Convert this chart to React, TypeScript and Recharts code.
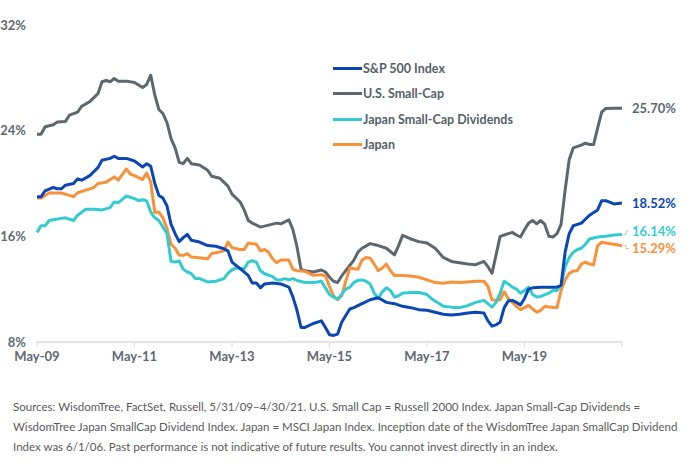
import { LineChart, Line, XAxis, YAxis, Legend } from "recharts";

// months since May-09 (0 = May-09, 144 = end of axis)
const tickMonths = [0, 24, 48, 72, 96, 120, 144];
const tickLabels = ["May-09", "May-11", "May-13", "May-15", "May-17", "May-19", ""];
const yTicks = [8, 16, 24, 32];

// [month, volatility %]
const spx: [number, number][] = [
    [0, 19.0], [1, 19.0], [2, 19.45], [4, 19.7], [5, 19.6], [6, 19.6], [7, 19.87], [9, 20.0], [10, 20.35], [11, 20.25],
    [13, 20.6], [15, 21.2], [16, 21.76], [18, 21.9], [19, 22.06], [20, 21.9], [22, 21.9], [24, 21.7], [26, 21.25], [27, 21.5],
    [28, 21.3], [29, 20.0], [30, 19.1], [31, 18.9], [32, 18.3], [33, 16.9], [34, 16.2], [35, 15.6], [36, 15.9], [37, 16.15],
    [38, 15.7], [40, 15.57], [42, 15.3], [44, 15.25], [46, 15.06], [47, 14.9], [48, 14.05], [50, 13.55], [52, 13.04], [53, 12.46],
    [54, 12.46], [55, 12.1], [56, 12.4], [58, 12.46], [60, 12.4], [62, 12.16], [63, 11.4], [64, 10.4], [65, 9.1], [66, 9.1],
    [68, 9.4], [70, 9.6], [71, 9.1], [72, 8.55], [73, 8.5], [74, 8.6], [75, 9.5], [76, 10.0], [77, 10.5], [78, 10.6],
    [80, 10.9], [82, 11.2], [84, 11.35], [86, 11.0], [88, 10.9], [90, 10.7], [92, 10.6], [94, 10.45], [96, 10.4], [98, 10.25],
    [100, 10.1], [102, 10.05], [104, 10.1], [106, 10.2], [108, 10.25], [110, 10.2], [111, 9.6], [112, 9.2], [113, 9.3], [114, 9.5],
    [115, 10.6], [116, 11.1], [117, 11.15], [118, 11.0], [119, 10.8], [120, 11.3], [121, 12.0], [122, 12.1], [124, 12.15], [126, 12.15],
    [128, 12.15], [129, 12.3], [130, 14.8], [131, 16.2], [132, 16.8], [134, 17.0], [136, 17.6], [138, 18.0], [139, 18.7], [140, 18.7],
    [142, 18.45], [144, 18.52],
];

const usSmallCap: [number, number][] = [
    [0, 23.73], [1, 23.73], [2, 24.3], [4, 24.45], [5, 24.66], [7, 24.7], [8, 25.17], [10, 25.4], [11, 25.85], [13, 26.2],
    [14, 26.5], [15, 26.8], [16, 27.7], [17, 27.8], [18, 27.7], [19, 27.95], [20, 27.75], [22, 27.75], [24, 27.65], [26, 27.27],
    [27, 27.5], [28, 28.2], [29, 26.7], [30, 25.6], [31, 25.3], [32, 24.6], [33, 23.4], [34, 22.7], [35, 21.6], [36, 21.5],
    [37, 21.9], [38, 21.5], [40, 21.4], [42, 21.0], [43, 20.55], [45, 20.4], [46, 20.1], [47, 19.8], [48, 19.2], [50, 18.6],
    [51, 18.0], [52, 17.2], [53, 17.0], [55, 16.7], [57, 16.85], [59, 17.0], [60, 16.95], [62, 17.25], [63, 16.5], [64, 15.2],
    [65, 13.5], [66, 13.4], [68, 13.3], [70, 13.45], [71, 13.3], [72, 12.9], [73, 12.6], [74, 12.5], [75, 13.0], [76, 13.4],
    [77, 13.8], [78, 14.2], [79, 14.8], [80, 15.1], [82, 15.45], [84, 15.3], [86, 15.1], [88, 14.6], [89, 15.3], [90, 16.07],
    [92, 15.8], [94, 15.6], [96, 15.5], [98, 15.1], [100, 14.4], [102, 14.1], [104, 14.0], [106, 13.9], [108, 13.85], [110, 14.1],
    [111, 13.7], [112, 13.2], [113, 14.6], [114, 16.0], [115, 16.1], [116, 16.2], [117, 16.3], [118, 16.1], [119, 15.95], [120, 16.5],
    [121, 17.0], [122, 17.2], [123, 16.95], [124, 17.2], [125, 16.9], [126, 16.0], [127, 15.95], [128, 16.2], [129, 16.9], [130, 19.5],
    [131, 21.8], [132, 22.7], [134, 22.9], [135, 23.05], [136, 22.95], [137, 22.95], [138, 24.2], [139, 25.4], [140, 25.68], [142, 25.7],
    [144, 25.7],
];

const japanSmallCapDiv: [number, number][] = [
    [0, 16.3], [1, 16.8], [2, 16.8], [3, 17.2], [4, 17.26], [6, 17.36], [7, 17.4], [9, 17.2], [10, 17.6], [12, 18.05],
    [14, 18.05], [16, 18.0], [18, 18.17], [19, 18.6], [20, 18.55], [22, 19.05], [24, 18.85], [25, 18.7], [26, 18.77], [27, 18.68],
    [28, 17.84], [29, 17.4], [30, 17.2], [31, 16.7], [32, 16.2], [33, 14.1], [34, 14.05], [35, 14.13], [36, 13.5], [37, 13.3],
    [38, 13.17], [39, 12.8], [40, 12.8], [42, 12.55], [44, 12.6], [46, 12.8], [47, 13.2], [48, 13.47], [49, 13.6], [51, 13.55],
    [52, 14.05], [53, 14.15], [54, 14.05], [55, 13.4], [56, 13.17], [58, 12.95], [59, 12.7], [60, 12.7], [61, 12.8], [62, 12.7],
    [63, 12.8], [64, 12.66], [66, 12.5], [68, 12.5], [69, 12.54], [70, 12.6], [71, 12.1], [72, 11.6], [73, 11.4], [74, 11.25],
    [75, 11.6], [76, 12.0], [77, 12.15], [78, 12.5], [79, 12.66], [80, 12.7], [81, 12.6], [82, 12.4], [83, 11.7], [84, 11.3],
    [85, 11.8], [86, 12.1], [87, 11.9], [88, 11.4], [89, 11.5], [90, 11.7], [92, 11.75], [94, 11.75], [96, 11.6], [97, 11.3],
    [98, 11.1], [100, 10.7], [102, 10.64], [104, 10.6], [106, 10.75], [108, 11.0], [110, 11.15], [111, 10.9], [112, 10.64], [113, 11.0],
    [114, 11.7], [115, 12.6], [116, 12.4], [117, 12.15], [118, 12.0], [119, 11.7], [120, 11.9], [121, 12.15], [122, 11.6], [123, 11.4],
    [124, 11.45], [126, 11.7], [127, 11.9], [128, 11.9], [129, 12.3], [130, 13.7], [131, 14.4], [132, 14.8], [133, 15.0], [134, 15.1],
    [135, 15.4], [136, 15.8], [138, 15.95], [140, 16.0], [142, 16.1], [144, 16.14],
];

const japan: [number, number][] = [
    [0, 18.9], [1, 18.9], [3, 19.28], [6, 19.28], [8, 19.1], [9, 19.0], [10, 19.3], [12, 19.5], [14, 19.7], [15, 20.0],
    [17, 20.1], [19, 20.5], [20, 20.25], [22, 21.1], [23, 20.7], [24, 20.6], [26, 20.3], [27, 20.8], [28, 20.1], [29, 17.8],
    [30, 17.84], [31, 17.4], [32, 16.6], [33, 15.4], [34, 15.1], [35, 14.56], [36, 14.56], [37, 14.7], [38, 14.43], [40, 14.38],
    [42, 14.3], [43, 14.7], [44, 14.75], [46, 14.9], [47, 15.57], [48, 15.14], [50, 15.0], [51, 15.0], [52, 15.5], [54, 15.4],
    [55, 14.9], [56, 15.0], [57, 14.8], [58, 14.3], [59, 14.0], [60, 14.2], [62, 14.2], [63, 13.5], [64, 13.4], [66, 13.35],
    [68, 13.05], [70, 13.1], [71, 13.0], [72, 12.2], [73, 11.5], [74, 11.2], [75, 11.5], [76, 12.6], [77, 13.6], [78, 13.55],
    [79, 13.5], [80, 14.2], [81, 14.4], [82, 14.35], [83, 13.9], [84, 13.4], [85, 13.6], [86, 13.9], [87, 13.4], [88, 13.04],
    [90, 13.04], [92, 13.0], [94, 12.9], [96, 12.7], [98, 12.5], [100, 12.45], [102, 12.55], [104, 12.5], [106, 12.55], [108, 12.6],
    [110, 12.6], [111, 12.2], [112, 11.2], [113, 11.15], [114, 11.2], [115, 11.8], [116, 11.3], [117, 11.0], [118, 10.7], [119, 10.45],
    [120, 10.6], [121, 10.77], [122, 10.5], [123, 10.26], [124, 10.4], [125, 10.7], [126, 10.65], [128, 10.6], [129, 11.9], [130, 12.7],
    [131, 13.2], [132, 13.37], [133, 13.4], [134, 13.9], [135, 14.05], [136, 13.9], [137, 13.85], [138, 15.3], [139, 15.55], [140, 15.5],
    [142, 15.4], [144, 15.29],
];

const seriesNames = ["S&P 500 Index", "U.S. Small-Cap", "Japan Small-Cap Dividends", "Japan"];

const footnoteLines = [
    "Sources: WisdomTree, FactSet, Russell, 5/31/09\u20134/30/21. U.S. Small Cap = Russell 2000 Index. Japan Small-Cap Dividends =",
    "WisdomTree Japan SmallCap Dividend Index. Japan = MSCI Japan Index. Inception date of the WisdomTree Japan SmallCap Dividend",
    "Index was 6/1/06. Past performance is not indicative of future results. You cannot invest directly in an index.",
];

const FONT = "Lato, 'Open Sans', sans-serif";
const AXIS_GRAY = "#5f6872";

const series = [
    { key: "usSmallCap", name: seriesNames[1], color: "#5d6770", points: usSmallCap, labelDy: 0, connector: false },
    { key: "japan", name: seriesNames[3], color: "#f8923a", points: japan, labelDy: 2.8, connector: true },
    { key: "japanSmallCapDiv", name: seriesNames[2], color: "#33cbd0", points: japanSmallCapDiv, labelDy: -3.4, connector: true },
    { key: "spx", name: seriesNames[0], color: "#0a47b5", points: spx, labelDy: 0.5, connector: false },
];

const legendOrder = [series[3], series[0], series[2], series[1]];

function renderLegend() {
    return (
        <div style={{ fontFamily: FONT }}>
            {legendOrder.map(s => (
                <div key={s.key} style={{ display: "flex", alignItems: "center", height: 25.3 }}>
                    <div style={{ width: 29, height: 3, background: s.color }} />
                    <span style={{ fontSize: 12.5, fontWeight: 700, color: "#555f69", marginLeft: 1 }}>{s.name}</span>
                </div>
            ))}
        </div>
    );
}

function endLabel(s: typeof series[number]) {
    const last = s.points.length - 1;
    return (props: any) => {
        const { cx, cy, index } = props;
        if (index !== last) return <g key={`${s.key}-${index}`} />;
        const ty = cy + s.labelDy;
        return (
            <g key={`${s.key}-end`}>
                {s.connector && (
                    <polyline
                        points={`${cx + 1},${cy} ${cx + 4},${cy} ${cx + 4},${ty} ${cx + 7},${ty}`}
                        fill="none"
                        stroke="#c4c4c4"
                        strokeWidth={1}
                    />
                )}
                <text x={cx + 10} y={ty} dy="0.36em" fill={s.color} fontSize={13} fontWeight={700} fontFamily={FONT}>
                    {`${s.points[last][1].toFixed(2)}%`}
                </text>
            </g>
        );
    };
}

export default function App() {
    return (
        <div style={{ position: "absolute", left: 0, top: 0, width: 682, height: 463, background: "#fff", fontFamily: FONT }}>
            <LineChart width={682} height={381} margin={{ top: 25, right: 60, bottom: 0, left: 0 }}>
                <XAxis
                    type="number"
                    dataKey="month"
                    domain={[0, 144]}
                    ticks={tickMonths}
                    tickFormatter={(v: number) => tickLabels[tickMonths.indexOf(v)] ?? ""}
                    height={39}
                    axisLine={{ stroke: "#dadada", strokeWidth: 1.5 }}
                    tickLine={{ stroke: "#dadada" }}
                    tickSize={5}
                    tickMargin={5}
                    tick={{ fill: AXIS_GRAY, fontSize: 13, fontWeight: 700, fontFamily: FONT }}
                />
                <YAxis
                    type="number"
                    domain={[8, 32]}
                    ticks={yTicks}
                    tickFormatter={(v: number) => `${v}%`}
                    width={37}
                    axisLine={false}
                    tickLine={false}
                    tickMargin={5}
                    tick={{ fill: AXIS_GRAY, fontSize: 13, fontWeight: 700, fontFamily: FONT }}
                />
                <Legend
                    layout="horizontal"
                    verticalAlign="middle"
                    align="center"
                    content={renderLegend}
                    wrapperStyle={{ left: 333, top: 56, width: 260 }}
                />
                {series.map(s => (
                    <Line
                        key={s.key}
                        data={s.points.map(([month, value]) => ({ month, value }))}
                        dataKey="value"
                        name={s.name}
                        type="linear"
                        stroke={s.color}
                        strokeWidth={3}
                        strokeLinejoin="round"
                        dot={endLabel(s)}
                        activeDot={false}
                        isAnimationActive={false}
                    />
                ))}
            </LineChart>
            <div style={{ position: "absolute", left: 13, top: 397, fontSize: 11.5, lineHeight: "20px", color: "#5a5a5a" }}>
                {footnoteLines.map((t, i) => (
                    <div key={i} style={{ whiteSpace: "nowrap" }}>{t}</div>
                ))}
            </div>
        </div>
    );
}
